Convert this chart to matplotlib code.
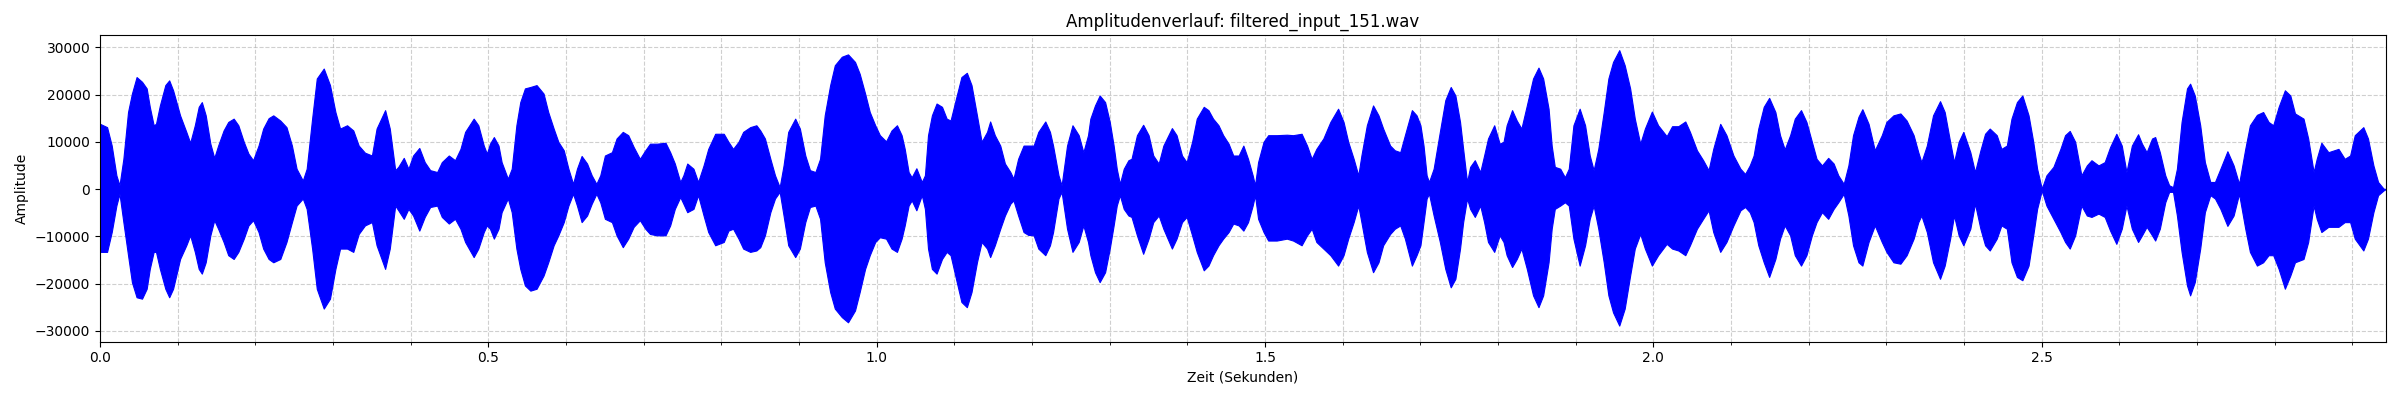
import matplotlib
matplotlib.use("Agg")
import matplotlib.pyplot as plt
from matplotlib.ticker import MultipleLocator
import numpy as np

title = "Amplitudenverlauf: filtered_input_151.wav"
x_label = "Zeit (Sekunden)"
y_label = "Amplitude"
duration = 2.943

# Envelope of the waveform (seconds, upper peak amplitude, lower peak amplitude)
time_s = [
    0.000,0.009,0.015,0.021,0.025,0.030,0.036,0.041,0.047,0.054,
    0.060,0.064,0.069,0.072,0.077,0.084,0.089,0.094,0.103,0.111,
    0.116,0.122,0.127,0.131,0.136,0.142,0.147,0.152,0.159,0.165,
    0.172,0.178,0.185,0.191,0.197,0.204,0.210,0.217,0.223,0.232,
    0.240,0.247,0.253,0.261,0.266,0.273,0.279,0.288,0.296,0.303,
    0.309,0.318,0.326,0.333,0.341,0.350,0.356,0.367,0.373,0.380,
    0.384,0.391,0.397,0.403,0.411,0.418,
    0.425,0.434,0.440,0.449,0.457,0.464,0.470,0.481,0.487,0.494,
    0.498,0.502,0.507,0.513,0.517,0.525,0.530,0.536,0.541,0.547,
    0.554,0.562,0.571,0.577,0.584,0.590,0.597,0.603,0.609,0.614,
    0.620,0.627,0.633,0.639,0.644,0.650,0.659,0.665,0.673,0.680,
    0.687,0.695,0.702,0.708,0.717,0.728,0.734,0.740,0.747,0.751,
    0.756,0.764,0.770,0.777,0.783,0.792,0.803,0.809,0.815,0.822,
    0.828,0.837,0.845,
    0.850,0.856,0.863,0.869,0.875,0.880,0.886,0.895,0.901,0.908,
    0.914,0.921,0.927,0.933,0.940,0.946,0.955,0.963,0.972,0.978,
    0.985,0.991,0.998,1.004,1.012,1.019,1.026,1.032,1.036,1.041,
    1.045,1.051,1.058,1.062,1.066,1.071,1.077,1.084,1.090,1.095,
    1.103,1.109,1.116,1.122,1.129,1.135,1.142,1.146,1.152,1.159,
    1.165,1.172,1.176,1.182,1.189,1.195,1.202,1.208,1.217,1.223,
    1.227,1.234,1.238,1.245,1.252,1.260,1.266,1.272,
    1.275,1.281,1.287,1.294,1.300,1.305,1.309,1.313,1.318,1.324,
    1.328,1.335,1.343,1.350,1.356,1.363,1.369,1.380,1.386,1.393,
    1.399,1.406,1.412,1.421,1.427,1.433,1.440,1.446,1.453,1.459,
    1.466,1.472,1.478,1.484,1.487,1.491,1.498,1.504,1.515,1.528,
    1.536,1.547,1.554,1.560,1.566,1.575,1.584,1.594,1.601,1.607,
    1.614,1.620,1.624,1.631,1.639,1.646,1.652,1.661,1.667,1.674,
    1.680,1.689,1.695,
    1.700,1.704,1.708,1.711,1.717,1.725,1.732,1.739,1.745,1.751,
    1.755,1.760,1.764,1.770,1.777,1.782,1.787,1.795,1.802,1.807,
    1.811,1.818,1.824,1.830,1.837,1.845,1.852,1.858,1.865,1.869,
    1.873,1.880,1.886,1.891,1.897,1.905,1.912,1.918,1.923,1.929,
    1.936,1.942,1.948,1.956,1.963,1.970,1.976,1.983,1.989,1.998,
    2.006,2.017,2.024,2.032,2.041,2.047,2.056,2.064,2.071,2.077,
    2.086,2.094,2.103,2.112,2.118,
    2.124,2.129,2.135,2.142,2.149,2.157,2.163,2.169,2.176,2.182,
    2.190,2.197,2.204,2.210,2.217,2.225,2.232,2.238,2.245,2.251,
    2.257,2.264,2.269,2.277,2.285,2.294,2.300,2.309,2.318,2.326,
    2.335,2.341,2.345,2.352,2.360,2.369,2.375,2.382,2.387,2.393,
    2.399,2.408,2.414,2.421,2.427,2.433,2.442,2.448,2.455,2.461,
    2.468,2.475,2.483,2.489,2.494,2.500,2.506,2.515,2.524,2.530,
    2.536,2.543,
    2.551,2.558,2.564,2.573,2.581,2.588,2.596,2.603,2.609,2.616,
    2.624,2.629,2.635,2.642,2.646,2.652,2.659,2.664,2.669,2.674,
    2.680,2.687,2.691,2.697,2.704,2.710,2.717,2.723,2.730,2.739,
    2.747,2.754,2.762,2.768,2.777,2.785,2.792,2.798,2.805,2.813,
    2.820,2.826,2.837,2.843,2.850,2.854,2.860,2.869,2.882,2.890,
    2.897,2.903,2.914,2.920,2.927,2.933,2.940,2.943,
]

upper = [
    13800,13100,9200,2900,800,6400,16300,20200,23700,22700,
    21300,17400,13500,13800,17700,22000,23000,20900,15600,12100,
    9800,13500,17400,18400,15600,9600,6600,9200,12400,14200,
    14900,13500,10000,7500,6100,9200,12800,15000,15600,14500,
    13100,9200,4300,1800,4300,14900,23400,25500,22000,16300,
    12800,13500,12400,9200,7700,7100,12800,16700,12800,4000,
    4700,6600,4300,7100,8700,5700,
    4000,3600,5700,7100,6100,8500,12100,14900,13500,9200,
    7500,9600,11000,9200,5700,2200,4300,13500,18400,21300,
    21600,22000,20200,16300,12800,10000,8200,4300,1100,4300,
    7000,5400,2900,1100,2900,7100,7800,10700,12100,11400,
    8900,6400,8200,9600,9600,9800,7800,5400,1500,2900,
    5400,4300,1500,5000,8500,11700,11700,10000,8500,10000,
    12100,13100,13500,
    12400,10700,6400,2900,400,5000,12100,14900,12800,7100,
    4000,3600,6400,15600,22000,26200,28000,28500,26900,24400,
    20200,16300,13500,11400,10100,12400,13500,11400,8500,3600,
    2500,4400,1500,2900,11400,15600,18100,17400,14900,14500,
    19800,23700,24600,22000,15600,10000,12100,14300,11400,9200,
    5400,3600,2200,6400,9200,9200,9200,12100,14300,12100,
    9200,2900,800,9200,13500,11400,7800,11400,
    14900,17700,19800,18400,14200,9200,4300,1100,4300,6100,
    6400,11400,13600,11400,7100,5400,9200,12900,11400,7100,
    5700,10000,14900,17400,16700,14900,13500,11400,9600,7100,
    7100,9200,6400,2900,800,5700,10000,11400,11400,11500,
    11400,11700,9200,6400,8500,10700,14200,17000,14200,10000,
    6400,2900,7100,13500,17700,15600,12800,9200,8200,7800,
    11400,16700,15600,
    13500,9200,2900,1500,4300,12100,18800,21600,19800,14200,
    8500,1500,4700,6100,3600,7100,10700,13500,9600,10000,
    13500,16700,14500,12800,17700,23400,25700,23400,17000,9200,
    4700,4300,2500,4300,13500,17000,13500,7100,4000,8500,
    16300,23400,26900,29400,26200,21300,14900,9600,12800,16400,
    13500,11200,13300,13300,14300,12100,8200,6100,4000,8500,
    13800,11400,7100,4300,3200,
    5000,7100,12800,17400,19300,16300,11400,8400,11400,14900,
    16700,14200,10000,6400,5000,6600,5400,2900,1100,5000,
    11400,15300,16900,13800,8200,11400,14200,15600,16000,14500,
    11400,7800,5700,9200,15600,18600,16300,10000,5700,10000,
    12100,7800,3600,8200,11700,12800,11400,8500,9200,14900,
    18400,19800,15600,10000,4300,100,2900,4700,8500,11400,
    12300,10000,
    2900,5000,6100,5000,5700,8900,11700,9200,3600,9200,
    11600,9600,7800,10700,11000,7800,2900,800,400,4300,
    14200,21300,22300,19800,13500,5700,1500,1500,4300,8000,
    5000,1100,8500,13500,15700,16300,14200,13500,17400,20900,
    19800,16000,14900,10700,3600,6400,9800,7800,8500,6400,
    7100,11400,13100,10700,5000,1500,100,0,
]

lower = [
    -13300,-13300,-9100,-3500,-1000,-7000,-14000,-19700,-22900,-23200,
    -21100,-16900,-13300,-13300,-16900,-21100,-22900,-21100,-14800,-11900,
    -9800,-13300,-16900,-17900,-15500,-9800,-6600,-8400,-11200,-14000,
    -14800,-13300,-10500,-7700,-6600,-9100,-12600,-14800,-15500,-14800,
    -11200,-7000,-3500,-2000,-4200,-12600,-21100,-25300,-23200,-16900,
    -12600,-12600,-13300,-9500,-7700,-7000,-11900,-16900,-12600,-3500,
    -4500,-6300,-4200,-5600,-8800,-5900,
    -3800,-3500,-5900,-7300,-6300,-8400,-11200,-14400,-12600,-9100,
    -7700,-8400,-10500,-8400,-4900,-2000,-4900,-12600,-16900,-20400,
    -21500,-21100,-18300,-15500,-11900,-9800,-7000,-3500,-1000,-3500,
    -7000,-5600,-3100,-1000,-2800,-6300,-7000,-9800,-12300,-10500,
    -8000,-6600,-8400,-9500,-9800,-9800,-7700,-4200,-1700,-3100,
    -4900,-4200,-1300,-5600,-9100,-11900,-11200,-8800,-8400,-10500,
    -12600,-13300,-13000,
    -12300,-9800,-4900,-2000,-600,-5600,-11900,-14400,-12600,-7000,
    -3800,-3500,-6300,-15500,-21800,-25300,-27100,-28200,-25700,-21800,
    -16900,-14000,-11200,-10200,-10500,-12600,-13300,-10500,-7700,-3500,
    -2400,-4500,-1300,-4200,-12600,-16900,-17900,-14800,-13300,-14000,
    -19700,-23900,-25000,-21800,-15500,-11200,-12600,-14400,-11900,-8400,
    -5600,-3100,-2400,-5600,-9100,-9700,-9800,-12600,-14000,-11900,
    -9100,-2000,-600,-8400,-13300,-11200,-7700,-11200,
    -14000,-17600,-19700,-17600,-12600,-7700,-3500,-1300,-4200,-5600,
    -5900,-9800,-13700,-10500,-7000,-5600,-8400,-12600,-10500,-7000,
    -5900,-9800,-13300,-17200,-16200,-14000,-11900,-10500,-9100,-7300,
    -7700,-8800,-7000,-3500,-1300,-6300,-9100,-10900,-10900,-10500,
    -10900,-11900,-9800,-8400,-11200,-12600,-14000,-16200,-14000,-10500,
    -7000,-3500,-7000,-13300,-17600,-15500,-11900,-9500,-8400,-7700,
    -10500,-16200,-14000,
    -11900,-7000,-2000,-1000,-5600,-11200,-16900,-20800,-19000,-12600,
    -7000,-2000,-4200,-5900,-3500,-7000,-11200,-13300,-9800,-11200,
    -14000,-16500,-14800,-12600,-16900,-22500,-25000,-22500,-15500,-8400,
    -4200,-3500,-2800,-3500,-10500,-16200,-11900,-6300,-3500,-8400,
    -15500,-22500,-26100,-28900,-25300,-18300,-12600,-9500,-12600,-16200,
    -14000,-11600,-12600,-13000,-14000,-11900,-8400,-6300,-4500,-9100,
    -13300,-11200,-7700,-4500,-3800,
    -4900,-7000,-11900,-15500,-18600,-14800,-10500,-7700,-9800,-14000,
    -16200,-14000,-9800,-7000,-4900,-6300,-4200,-2800,-1000,-5600,
    -11900,-15500,-16200,-11200,-7700,-11200,-13300,-15500,-15800,-14000,
    -10500,-7000,-5600,-9100,-15500,-19000,-16200,-10500,-5600,-9800,
    -11900,-8400,-3100,-8400,-11900,-13000,-10500,-7700,-8400,-15500,
    -18600,-19300,-16200,-9800,-4200,-300,-3500,-6300,-9100,-11200,
    -12600,-9800,
    -3500,-5600,-5900,-5200,-5900,-8800,-11600,-8400,-3500,-8400,
    -11200,-9800,-8000,-9800,-10900,-8400,-2800,-600,-600,-5600,
    -13300,-20400,-22500,-19700,-12600,-4900,-1300,-2000,-4200,-7800,
    -5600,-1000,-8400,-13300,-16200,-15500,-14000,-14000,-16900,-21100,
    -18300,-15500,-14800,-11200,-3500,-6300,-9100,-8000,-8000,-7000,
    -7000,-10500,-13000,-10500,-4900,-1300,-300,0,
]

y_ticks = [-30000, -20000, -10000, 0, 10000, 20000, 30000]
x_ticks = [0.0, 0.5, 1.0, 1.5, 2.0, 2.5]

fig = plt.figure(figsize=(24, 4), dpi=100)
ax = fig.add_axes([0.0417, 0.1458, 0.9524, 0.7667])

ax.fill_between(np.array(time_s), np.array(lower), np.array(upper),
                color="blue", linewidth=0.8, edgecolor="blue")

ax.set_xlim(0, duration)
ax.set_ylim(-32300, 32600)
ax.set_xticks(x_ticks)
ax.set_xticklabels([f"{v:.1f}" for v in x_ticks])
ax.xaxis.set_minor_locator(MultipleLocator(0.1))
ax.set_yticks(y_ticks)
ax.set_yticklabels([f"{v:d}".replace("-", "\u2212") for v in y_ticks])

ax.grid(True, which="both", linestyle="--", alpha=0.6)
ax.set_axisbelow(True)

ax.set_title(title, fontsize=12)
ax.set_xlabel(x_label, fontsize=10)
ax.set_ylabel(y_label, fontsize=10)

fig.savefig("out.png", dpi=100)
